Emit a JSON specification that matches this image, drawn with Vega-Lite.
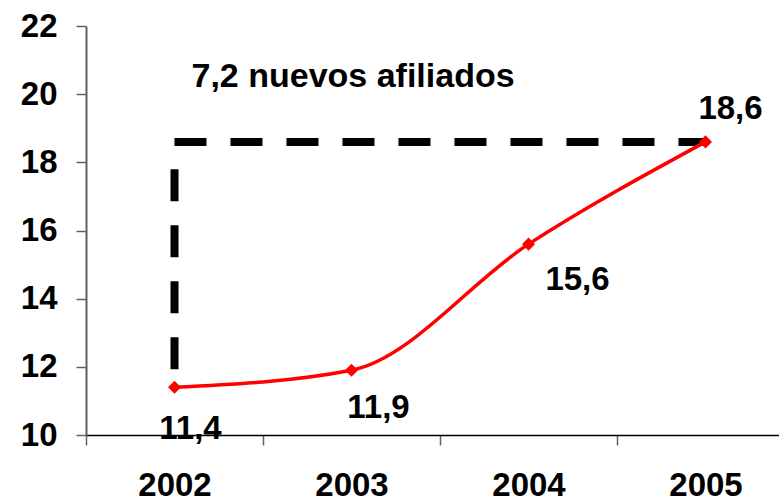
{
  "$schema": "https://vega.github.io/schema/vega-lite/v6.json",
  "autosize": {"type": "none"},
  "padding": {"left": 86, "top": 26, "right": 0, "bottom": 66},
  "width": 693,
  "height": 409,
  "config": {
    "view": {"stroke": null},
    "font": "Liberation Sans",
    "text": {"font": "Liberation Sans", "fontWeight": "bold", "fontSize": 33, "color": "#000000"}
  },
  "datasets": {
    "serie": [
      {"year": "2002", "value": 11.4, "label": "11,4"},
      {"year": "2003", "value": 11.9, "label": "11,9"},
      {"year": "2004", "value": 15.6, "label": "15,6"},
      {"year": "2005", "value": 18.6, "label": "18,6"}
    ]
  },
  "data": {"name": "serie"},
  "encoding": {
    "x": {
      "field": "year",
      "type": "ordinal",
      "scale": {"type": "band", "range": [0, 708], "paddingInner": 0, "paddingOuter": 0},
      "axis": {
        "title": null,
        "labelAngle": 0,
        "labelFont": "Liberation Sans",
        "labelFontWeight": "bold",
        "labelFontSize": 33,
        "labelColor": "#000000",
        "labelPadding": 24,
        "tickBand": "extent",
        "tickSize": 10,
        "tickColor": "#606060",
        "tickWidth": 1.5,
        "domainColor": "#000000",
        "domainWidth": 1.5,
        "grid": false
      }
    },
    "y": {
      "field": "value",
      "type": "quantitative",
      "scale": {"domain": [10, 22], "nice": false, "zero": false},
      "axis": {
        "title": null,
        "values": [10, 12, 14, 16, 18, 20, 22],
        "labelFont": "Liberation Sans",
        "labelFontWeight": "bold",
        "labelFontSize": 33,
        "labelColor": "#000000",
        "labelPadding": 19,
        "tickSize": 10,
        "tickColor": "#606060",
        "tickWidth": 1.5,
        "domainColor": "#606060",
        "domainWidth": 2,
        "grid": false
      }
    }
  },
  "layer": [
    {
      "data": {"values": [{"year": "2002", "top": 17.8, "bottom": 11.4}]},
      "mark": {"type": "rule", "color": "#000000", "strokeWidth": 8, "strokeDash": [32, 24]},
      "encoding": {
        "x": {"field": "year", "type": "ordinal"},
        "y": {"field": "top", "type": "quantitative"},
        "y2": {"field": "bottom"}
      }
    },
    {
      "data": {"values": [{"year": "2002", "year2": "2005", "level": 18.6}]},
      "mark": {"type": "rule", "color": "#000000", "strokeWidth": 8, "strokeDash": [32, 24]},
      "encoding": {
        "x": {"field": "year", "type": "ordinal"},
        "x2": {"field": "year2"},
        "y": {"field": "level", "type": "quantitative"}
      }
    },
    {
      "mark": {"type": "line", "color": "#ff0000", "strokeWidth": 3.5, "interpolate": "monotone"}
    },
    {
      "mark": {"type": "point", "shape": "diamond", "filled": true, "color": "#ff0000", "size": 170, "opacity": 1}
    },
    {
      "transform": [{"filter": "datum.year == '2002'"}],
      "mark": {"type": "text", "align": "center", "baseline": "alphabetic", "dx": 16, "dy": 52},
      "encoding": {"text": {"field": "label"}}
    },
    {
      "transform": [{"filter": "datum.year == '2003'"}],
      "mark": {"type": "text", "align": "center", "baseline": "alphabetic", "dx": 27, "dy": 48},
      "encoding": {"text": {"field": "label"}}
    },
    {
      "transform": [{"filter": "datum.year == '2004'"}],
      "mark": {"type": "text", "align": "center", "baseline": "alphabetic", "dx": 49, "dy": 46},
      "encoding": {"text": {"field": "label"}}
    },
    {
      "transform": [{"filter": "datum.year == '2005'"}],
      "mark": {"type": "text", "align": "center", "baseline": "alphabetic", "dx": 25, "dy": -23},
      "encoding": {"text": {"field": "label"}}
    },
    {
      "data": {"values": [{"year": "2002", "level": 20.2, "note": "7,2 nuevos afiliados"}]},
      "mark": {"type": "text", "align": "left", "baseline": "alphabetic", "dx": 17, "fontSize": 34},
      "encoding": {
        "x": {"field": "year", "type": "ordinal"},
        "y": {"field": "level", "type": "quantitative"},
        "text": {"field": "note"}
      }
    }
  ]
}
